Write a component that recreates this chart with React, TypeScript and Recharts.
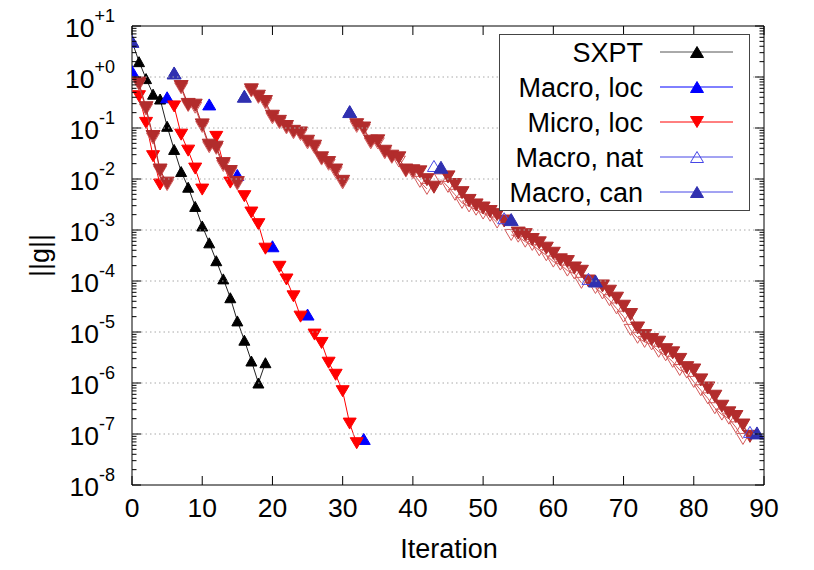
import React from 'react';
import { ComposedChart, Scatter, XAxis, YAxis, ReferenceLine, Legend } from 'recharts';

const FONT = '"Liberation Sans", Arial, Helvetica, sans-serif';

// plot box inside the svg (chart coords, chart sits at page 0,0)
const PLOT_LEFT = 132;
const PLOT_RIGHT = 764;
const PLOT_TOP = 26;
const PLOT_BOTTOM = 485;

const xTicks = [0, 10, 20, 30, 40, 50, 60, 70, 80, 90];
const yMajor = [10, 1, 1e-1, 1e-2, 1e-3, 1e-4, 1e-5, 1e-6, 1e-7, 1e-8];
const yExpLabels = ['+1', '+0', '-1', '-2', '-3', '-4', '-5', '-6', '-7', '-8'];

const legendNames = ['SXPT', 'Macro, loc', 'Micro, loc', 'Macro, nat', 'Macro, can'];

// SXPT
const sxptIter = [0, 1, 2, 3, 4, 5, 6, 7, 8, 9, 10, 11, 12, 13, 14, 15, 16, 17, 18, 19];
const sxptG = [5.0, 2.0, 0.93, 0.46, 0.37, 0.108, 0.038, 0.014, 0.0069, 0.0029, 1.2e-3, 5.6e-4, 2.5e-4, 1.1e-4, 4.7e-5, 1.65e-5, 6.9e-6, 2.7e-6, 1.0e-6, 2.5e-6];

// Macro, loc
const macroLocIter = [0, 5, 11, 15, 20, 25, 33];
const macroLocG = [1.3, 0.4, 0.29, 0.012, 4.8e-4, 2.2e-5, 8e-8];

// Micro, loc (segments start at these iterations)
const microLocStart = [1, 6, 12, 16, 21, 26];
const microLocG = [
  [0.42, 0.126, 0.028, 0.0078],
  [0.265, 0.074, 0.036, 0.016, 0.0062],
  [0.067, 0.02, 0.0085],
  [0.0046, 0.0022, 0.0013, 4.3e-4],
  [1.9e-4, 1.07e-4, 5e-5, 2.0e-5],
  [8.9e-6, 6.1e-6, 2.5e-6, 1.45e-6, 6.9e-7, 1.6e-7, 6.6e-8],
];

// Macro, nat
const macroNatIter = [0, 6, 16, 31, 43, 53, 65, 88];
const macroNatG = [5.0, 1.2, 0.42, 0.21, 0.018, 1.7e-3, 1.1e-4, 1.1e-7];
const microNatStart = [1, 7, 17, 32, 44, 54, 66];
const microNatG = [
  [0.7, 0.23, 0.062, 0.014, 0.0076],
  [0.6, 0.27, 0.25, 0.105, 0.042, 0.039, 0.018, 0.013, 0.0078],
  [0.52, 0.39, 0.3, 0.155, 0.125, 0.098, 0.079, 0.073, 0.05, 0.04, 0.024, 0.019, 0.0135, 0.0082],
  [0.105, 0.092, 0.05, 0.05, 0.032, 0.026, 0.022, 0.014, 0.013, 0.0088, 0.0064],
  [0.0098, 0.007, 0.0049, 0.0034, 0.0029, 0.0025, 0.0021, 0.0019, 0.0014],
  [8.0e-4, 7.4e-4, 5.9e-4, 5.1e-4, 4.0e-4, 3.2e-4, 2.4e-4, 2.1e-4, 1.6e-4, 1.4e-4, 9.2e-5],
  [7.3e-5, 5.7e-5, 4.2e-5, 2.9e-5, 2.0e-5, 1.1e-5, 7.7e-6, 6.4e-6, 5.7e-6, 4.1e-6, 3.5e-6, 2.6e-6, 1.8e-6, 1.6e-6, 1.05e-6, 7.2e-7, 5.0e-7, 3.2e-7, 2.4e-7, 2.0e-7, 1.35e-7, 8.0e-8],
];

// Macro, can
const macroCanIter = [0, 6, 16, 31, 44, 54, 66, 89];
const macroCanG = [5.0, 1.2, 0.42, 0.21, 0.017, 1.6e-3, 1.0e-4, 1.05e-7];
const microCanStart = [1, 7, 17, 32, 45, 55, 67];
const microCanG = [
  [0.76, 0.25, 0.068, 0.015, 0.0083],
  [0.65, 0.29, 0.28, 0.115, 0.046, 0.042, 0.02, 0.014, 0.0085],
  [0.56, 0.42, 0.33, 0.17, 0.135, 0.107, 0.086, 0.08, 0.055, 0.044, 0.026, 0.021, 0.015, 0.009],
  [0.116, 0.1, 0.055, 0.056, 0.035, 0.028, 0.026, 0.015, 0.0145, 0.0138, 0.0097, 0.0069],
  [0.011, 0.0078, 0.0054, 0.0038, 0.0031, 0.0027, 0.0023, 0.002, 0.0015],
  [8.7e-4, 8.1e-4, 6.5e-4, 5.6e-4, 4.4e-4, 3.5e-4, 2.6e-4, 2.4e-4, 1.8e-4, 1.55e-4, 1.0e-4],
  [8.0e-5, 6.3e-5, 4.6e-5, 3.2e-5, 2.2e-5, 1.2e-5, 8.5e-6, 7.1e-6, 6.3e-6, 4.5e-6, 3.9e-6, 2.9e-6, 2.0e-6, 1.8e-6, 1.15e-6, 8.0e-7, 5.5e-7, 3.5e-7, 2.6e-7, 2.2e-7, 1.5e-7, 9.0e-8],
];

const pts = (iters: number[], g: number[]) => iters.map((x, i) => ({ x, y: g[i] }));
const seg = (start: number, g: number[]) => g.map((y, i) => ({ x: start + i, y }));

// log minor ticks
const yTicks: number[] = [];
yMajor.forEach((m) => {
  yTicks.push(m);
  if (m < 10) for (let d = 2; d <= 9; d++) yTicks.push(m * d);
});

const C = {
  sxpt: '#000000',
  sxptLine: '#222222',
  loc: '#0000ff',
  micro: '#ff0000',
  nat: '#4646e6',
  natMicro: '#d45a5a',
  can: '#3030b0',
  canMicro: '#b22c2c',
};

const tri = (up: boolean, w: number, h: number, fill: string, stroke: string, sw = 1) => (props: any) => {
  const { cx, cy } = props;
  if (cx == null || cy == null || isNaN(cx) || isNaN(cy)) return <g />;
  const p = up
    ? `${cx - w / 2},${cy + h / 2} ${cx + w / 2},${cy + h / 2} ${cx},${cy - h / 2}`
    : `${cx - w / 2},${cy - h / 2} ${cx + w / 2},${cy - h / 2} ${cx},${cy + h / 2}`;
  return <polygon points={p} fill={fill} stroke={stroke} strokeWidth={sw} strokeLinejoin="miter" />;
};

const XTick = (props: any) => {
  const { x, payload } = props;
  return (
    <g>
      <line x1={x} x2={x} y1={PLOT_BOTTOM} y2={PLOT_BOTTOM - 9} stroke="#000" />
      <line x1={x} x2={x} y1={PLOT_TOP} y2={PLOT_TOP + 9} stroke="#000" />
      <text x={x} y={PLOT_BOTTOM + 32} textAnchor="middle" fontSize={26.5} fontFamily={FONT} fill="#000">
        {payload.value}
      </text>
    </g>
  );
};

const YTick = (props: any) => {
  const { y, payload } = props;
  const v = payload.value;
  const idx = yMajor.findIndex((m) => Math.abs(Math.log10(m) - Math.log10(v)) < 1e-6);
  const major = idx >= 0;
  const len = major ? 9 : 4.5;
  return (
    <g>
      {major && idx > 0 && idx < yMajor.length - 1 && (
        <line x1={PLOT_LEFT} x2={PLOT_RIGHT} y1={y} y2={y} stroke="#a8a8a8" strokeDasharray="1.5 3" />
      )}
      <line x1={PLOT_LEFT} x2={PLOT_LEFT + len} y1={y} y2={y} stroke="#000" />
      <line x1={PLOT_RIGHT - len} x2={PLOT_RIGHT} y1={y} y2={y} stroke="#000" />
      {major && (
        <text x={PLOT_LEFT - 17} y={y + 11} textAnchor="end" fontSize={26.5} fontFamily={FONT} fill="#000">
          10
          <tspan dy={-15} fontSize={18}>{yExpLabels[idx]}</tspan>
        </text>
      )}
    </g>
  );
};

const legendStyles = [
  { line: '#555555', up: true, fill: C.sxpt, stroke: C.sxpt },
  { line: C.loc, up: true, fill: C.loc, stroke: C.loc },
  { line: C.micro, up: false, fill: C.micro, stroke: C.micro },
  { line: C.nat, up: true, fill: 'none', stroke: C.nat },
  { line: C.nat, up: true, fill: C.can, stroke: C.can },
];

const LegendBox = () => (
  <svg width={252} height={178} style={{ display: 'block' }}>
    <rect x={0.5} y={0.5} width={250} height={176} fill="#fff" stroke="#444" />
    {legendNames.map((name, i) => {
      const cy = 18 + i * 35;
      const s = legendStyles[i];
      const Shape = tri(s.up, 13, 11, s.fill, s.stroke);
      return (
        <g key={name}>
          <text x={144} y={cy + 9.5} textAnchor="end" fontSize={27} fontFamily={FONT} fill="#000">
            {name}
          </text>
          <line x1={161} x2={234} y1={cy} y2={cy} stroke={s.line} strokeWidth={1} />
          {Shape({ cx: 198, cy })}
        </g>
      );
    })}
  </svg>
);

export default function App() {
  const sxptShape = tri(true, 11, 10, C.sxpt, C.sxpt);
  const locShape = tri(true, 13, 11, C.loc, C.loc);
  const microShape = tri(false, 13, 11, C.micro, C.micro);
  const natMicroShape = tri(false, 13, 11, 'none', C.natMicro);
  const canMicroShape = tri(false, 14, 12, C.canMicro, C.canMicro);
  const natShape = tri(true, 13, 11, 'none', C.nat);
  const canShape = tri(true, 14, 12, C.can, C.can);
  const midY = (PLOT_TOP + PLOT_BOTTOM) / 2;

  return (
    <div style={{ marginTop: -8, marginLeft: -8, width: 812, height: 570 }}>
      <ComposedChart width={812} height={570} margin={{ top: PLOT_TOP, right: 812 - PLOT_RIGHT, bottom: 25, left: 0 }}>
        <XAxis
          dataKey="x"
          type="number"
          domain={[0, 90]}
          ticks={xTicks}
          interval={0}
          allowDataOverflow
          height={570 - 25 - PLOT_BOTTOM}
          tickSize={0}
          tickMargin={0}
          tickLine={false}
          axisLine={{ stroke: '#000' }}
          tick={<XTick />}
          label={() => (
            <text x={449} y={558} textAnchor="middle" fontSize={27} fontFamily={FONT} fill="#000">
              Iteration
            </text>
          )}
        />
        <YAxis
          dataKey="y"
          type="number"
          scale="log"
          domain={[1e-8, 10]}
          ticks={yTicks}
          interval={0}
          allowDataOverflow
          width={PLOT_LEFT}
          tickSize={0}
          tickMargin={0}
          tickLine={false}
          axisLine={{ stroke: '#000' }}
          tick={<YTick />}
          label={() => (
            <text
              x={49}
              y={midY}
              transform={`rotate(-90 49 ${midY})`}
              textAnchor="middle"
              fontSize={27}
              fontFamily={FONT}
              fill="#000"
            >
              ||g||
            </text>
          )}
        />
        <ReferenceLine y={10} stroke="#000" ifOverflow="visible" />
        <ReferenceLine x={90} stroke="#000" ifOverflow="visible" />

        <Scatter
          data={pts(sxptIter, sxptG)}
          line={{ stroke: C.sxptLine, strokeWidth: 1 }}
          shape={sxptShape}
          isAnimationActive={false}
          legendType="none"
        />
        <Scatter data={pts(macroLocIter, macroLocG)} shape={locShape} isAnimationActive={false} legendType="none" />
        {microLocG.map((g, i) => (
          <Scatter
            key={'ml' + i}
            data={seg(microLocStart[i], g)}
            line={{ stroke: C.micro, strokeWidth: 1 }}
            shape={microShape}
            isAnimationActive={false}
            legendType="none"
          />
        ))}
        {microNatG.map((g, i) => (
          <Scatter
            key={'mn' + i}
            data={seg(microNatStart[i], g)}
            line={{ stroke: C.natMicro, strokeWidth: 1 }}
            shape={natMicroShape}
            isAnimationActive={false}
            legendType="none"
          />
        ))}
        {microCanG.map((g, i) => (
          <Scatter
            key={'mc' + i}
            data={seg(microCanStart[i], g)}
            line={{ stroke: C.canMicro, strokeWidth: 1 }}
            shape={canMicroShape}
            isAnimationActive={false}
            legendType="none"
          />
        ))}
        <Scatter data={pts(macroNatIter, macroNatG)} shape={natShape} isAnimationActive={false} legendType="none" />
        <Scatter data={pts(macroCanIter, macroCanG)} shape={canShape} isAnimationActive={false} legendType="none" />

        <Legend
          layout="horizontal"
          verticalAlign="middle"
          align="center"
          content={() => <LegendBox />}
          wrapperStyle={{ position: 'absolute', left: 499, top: 34, width: 252, height: 178 }}
        />
      </ComposedChart>
    </div>
  );
}
